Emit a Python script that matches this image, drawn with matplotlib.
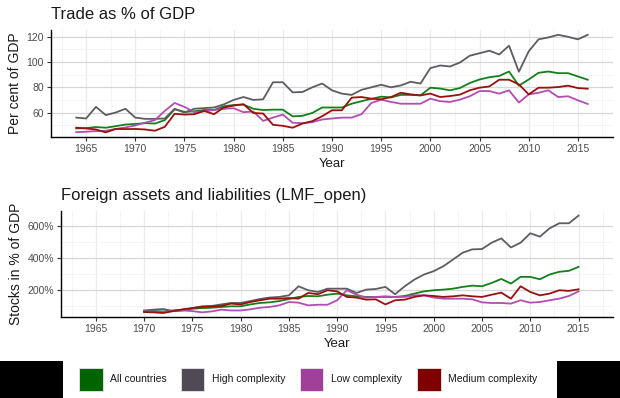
import matplotlib
matplotlib.use("Agg")
import matplotlib.pyplot as plt
from matplotlib.patches import Rectangle
from matplotlib.ticker import FixedLocator, FuncFormatter
import numpy as np

plt.rcParams['font.family'] = ['Liberation Sans', 'DejaVu Sans']

series_names = ["All countries", "High complexity", "Low complexity", "Medium complexity"]
colors = ["#13801a", "#5f5b63", "#b24db2", "#9a1010"]
legend_fill = ["#006400", "#4f4a53", "#a0409b", "#7f0000"]

years_trade = list(range(1964, 2017))
trade_all = [47.4, 47.7, 48.5, 48.0, 49.2, 50.5, 51.0, 51.6, 51.3, 54.0, 62.6, 60.5, 61.0, 62.0, 62.0,
             65.0, 66.0, 66.3, 63.0, 62.0, 62.3, 62.3, 57.0, 57.4, 59.7, 64.0, 64.0, 64.0, 67.0, 69.0,
             70.8, 72.6, 72.0, 74.0, 74.0, 73.6, 79.7, 79.0, 77.6, 79.4, 83.4, 86.2, 88.0, 89.0, 92.5,
             81.3, 86.2, 91.5, 92.5, 91.2, 91.2, 88.6, 86.0]
trade_high = [56.0, 55.3, 64.5, 58.0, 60.0, 63.0, 56.0, 55.0, 55.0, 55.3, 63.0, 60.0, 63.0, 63.5, 64.0,
              66.5, 70.0, 72.3, 70.0, 70.5, 84.0, 84.0, 76.0, 76.3, 80.0, 83.0, 77.6, 75.0, 74.0, 78.0,
              80.0, 82.0, 80.0, 81.5, 84.4, 83.0, 95.2, 97.3, 96.5, 99.6, 105.0, 107.0, 109.0, 106.0,
              113.0, 92.3, 108.5, 118.0, 119.5, 121.6, 120.0, 118.0, 121.6]
trade_low = [44.5, 44.8, 45.3, 45.6, 47.0, 48.2, 49.8, 52.0, 54.0, 61.3, 67.6, 64.5, 60.3, 61.0, 62.0,
             63.0, 63.4, 60.3, 60.8, 53.4, 56.0, 58.4, 51.9, 51.6, 52.4, 54.5, 55.3, 56.0, 56.0, 58.7,
             67.6, 70.2, 68.4, 67.0, 67.0, 67.0, 71.0, 69.0, 68.4, 70.2, 72.9, 77.0, 77.0, 75.0, 77.6,
             67.9, 74.4, 75.7, 77.6, 72.3, 72.9, 69.7, 66.8]
trade_med = [48.0, 47.4, 46.6, 44.3, 47.0, 46.9, 47.0, 46.6, 45.6, 48.7, 59.0, 58.4, 58.7, 61.3, 58.7,
             64.0, 65.5, 66.6, 59.7, 59.2, 50.3, 49.5, 48.0, 51.3, 53.2, 57.1, 61.8, 61.8, 71.8, 72.3,
             71.0, 70.5, 72.3, 75.7, 74.4, 73.6, 75.0, 72.3, 73.1, 74.2, 77.6, 79.7, 80.7, 86.0, 86.0,
             82.3, 74.4, 79.7, 79.7, 80.2, 81.3, 79.4, 78.9]

years_lmf = list(range(1970, 2016))
lmf_all = [63, 65, 63, 69, 74, 80, 84, 86, 91, 95, 95, 107, 116, 120, 128, 141, 154, 160, 158, 168,
           175, 164, 158, 154, 154, 154, 154, 160, 175, 189, 196, 200, 206, 217, 225, 221, 242, 267,
           238, 280, 280, 265, 295, 312, 318, 343]
lmf_high = [69, 74, 78, 65, 69, 84, 95, 97, 107, 116, 116, 128, 141, 150, 154, 164, 221, 196, 185, 206,
            206, 206, 179, 200, 204, 217, 171, 221, 263, 295, 316, 347, 389, 432, 453, 455, 495, 522,
            465, 495, 554, 533, 585, 617, 617, 665]
lmf_low = [63, 59, 59, 65, 69, 65, 57, 63, 74, 69, 69, 76, 86, 91, 101, 122, 118, 101, 105, 105,
           133, 196, 168, 150, 154, 158, 154, 154, 164, 164, 150, 143, 143, 143, 139, 120, 116, 116,
           112, 133, 118, 122, 133, 143, 160, 189]
lmf_med = [59, 57, 53, 65, 76, 84, 91, 95, 97, 112, 107, 122, 133, 143, 143, 147, 143, 179, 171, 196,
           189, 154, 150, 137, 139, 107, 133, 137, 154, 164, 160, 154, 158, 164, 158, 154, 168, 181,
           143, 221, 185, 164, 175, 196, 192, 202]

W, H = 620, 398
fig = plt.figure(figsize=(W / 100, H / 100), dpi=100, facecolor="white")

def px_axes(l, t, r, b):
    return fig.add_axes([l / W, 1 - b / H, (r - l) / W, (b - t) / H])

ax1 = px_axes(50.7, 30, 613.3, 137.3)
ax2 = px_axes(61, 210.7, 613.3, 317.3)

tick_col = "#4d4d4d"

def style(ax, yt, ym, ylim, fmt=None):
    ax.set_facecolor("white")
    ax.set_xlim(1961.4, 2018.6)
    ax.set_ylim(*ylim)
    ax.xaxis.set_major_locator(FixedLocator(list(range(1965, 2016, 5))))
    ax.xaxis.set_minor_locator(FixedLocator([1962.5 + 5 * i for i in range(12)]))
    ax.yaxis.set_major_locator(FixedLocator(yt))
    ax.yaxis.set_minor_locator(FixedLocator(ym))
    if fmt:
        ax.yaxis.set_major_formatter(FuncFormatter(fmt))
    ax.grid(which="major", axis="y", color="#d6d6d6", linewidth=0.9)
    ax.grid(which="major", axis="x", color="#ebebeb", linewidth=0.9)
    ax.grid(which="minor", color="#f3f3f3", linewidth=0.6)
    ax.set_axisbelow(True)
    for s in ["top", "right"]:
        ax.spines[s].set_visible(False)
    for s in ["left", "bottom"]:
        ax.spines[s].set_color("black")
        ax.spines[s].set_linewidth(1.0)
    ax.tick_params(which="major", length=3, width=0.8, color="#333333",
                   labelsize=7.5, labelcolor=tick_col, pad=2)
    ax.tick_params(which="minor", length=0)
    ax.set_xlabel("Year", fontsize=9.5, color="#1a1a1a", labelpad=3)

style(ax1, [60, 80, 100, 120], [50, 70, 90, 110], (40.4, 125.4))
style(ax2, [200, 400, 600], [100, 300, 500], (26, 696), fmt=lambda v, p: f"{int(v)}%")

for vals, c in zip([trade_all, trade_high, trade_low, trade_med], colors):
    ax1.plot(years_trade, vals, color=c, linewidth=1.3, solid_joinstyle="round")
for vals, c in zip([lmf_all, lmf_high, lmf_low, lmf_med], colors):
    ax2.plot(years_lmf, vals, color=c, linewidth=1.3, solid_joinstyle="round")

ax1.set_ylabel("Per cent of GDP", fontsize=10, color="#1a1a1a", labelpad=3)
ax2.set_ylabel("Stocks in % of GDP", fontsize=10, color="#1a1a1a", labelpad=3)
ax1.set_title("Trade as % of GDP", fontsize=12, loc="left", color="#1a1a1a", pad=8)
ax2.set_title("Foreign assets and liabilities (LMF_open)", fontsize=12, loc="left",
              color="#1a1a1a", pad=8)

# legend strip
def fig_rect(x0, y0, x1, y1, **kw):
    fig.add_artist(Rectangle((x0 / W, 1 - y1 / H), (x1 - x0) / W, (y1 - y0) / H,
                             transform=fig.transFigure, **kw))

fig_rect(0, 361, 62.7, 398, facecolor="black", edgecolor="none")
fig_rect(557.3, 361, 620, 398, facecolor="black", edgecolor="none")

key_x = [79.3, 180.7, 300.0, 417.3]
for name, fc, kx in zip(series_names, legend_fill, key_x):
    fig_rect(kx, 367.7, kx + 23.4, 390.7, facecolor=fc, edgecolor="#e8e8e8", linewidth=0.6)
    fig.text((kx + 31) / W, 1 - 379.5 / H, name, fontsize=7.5, color="#1a1a1a",
             ha="left", va="center")

fig.savefig("out.png", dpi=100, facecolor="white")
